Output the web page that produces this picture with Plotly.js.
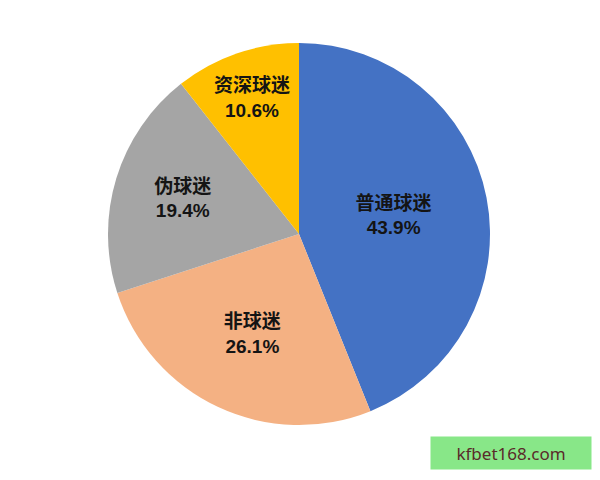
<!DOCTYPE html>
<html>
<head>
<meta charset="utf-8">
<script src="https://cdn.plot.ly/plotly-3.0.1.min.js"></script>
<style>
  html, body { margin: 0; padding: 0; background: #fff; }
  #chart { width: 600px; height: 480px; }
</style>
</head>
<body>
<div id="chart"></div>
<script>
// fan segments, clockwise from 12 o'clock
const labels = ['普通球迷', '非球迷', '伪球迷', '资深球迷'];
const shares = [43.9, 26.1, 19.4, 10.6];
const colors = ['#4472C4', '#F4B183', '#A5A5A5', '#FFC000'];

const trace = {
    type: 'pie',
    labels: labels,
    values: shares,
    sort: false,
    direction: 'clockwise',
    rotation: 0,
    marker: { colors: colors, line: { width: 0 } },
    texttemplate: '<b>%{label}</b><br><b>%{value:.1f}%</b>',
    textposition: 'inside',
    insidetextorientation: 'horizontal',
    insidetextfont: { family: '"Liberation Sans", "Noto Sans CJK SC", sans-serif', size: 19, color: '#141414' },
    hoverinfo: 'none',
    showlegend: false,
};

const layout = {
    width: 600,
    height: 480,
    margin: { l: 108, r: 110, t: 43, b: 55 },
    paper_bgcolor: '#ffffff',
    showlegend: false,
    annotations: [{
        text: 'kfbet168.com',
        xref: 'paper', yref: 'paper',
        x: 1.0, y: -0.04,
        xanchor: 'left', yanchor: 'top',
        xshift: -60,
        yshift: 4,
        showarrow: false,
        bgcolor: '#88E788',
        borderpad: 6,
        width: 148,
        height: 20,
        font: { family: '"Noto Sans", sans-serif', size: 17, color: '#5a2a2a' },
    }],
};

Plotly.newPlot('chart', [trace], layout, { displayModeBar: false, staticPlot: true });
</script>
</body>
</html>
